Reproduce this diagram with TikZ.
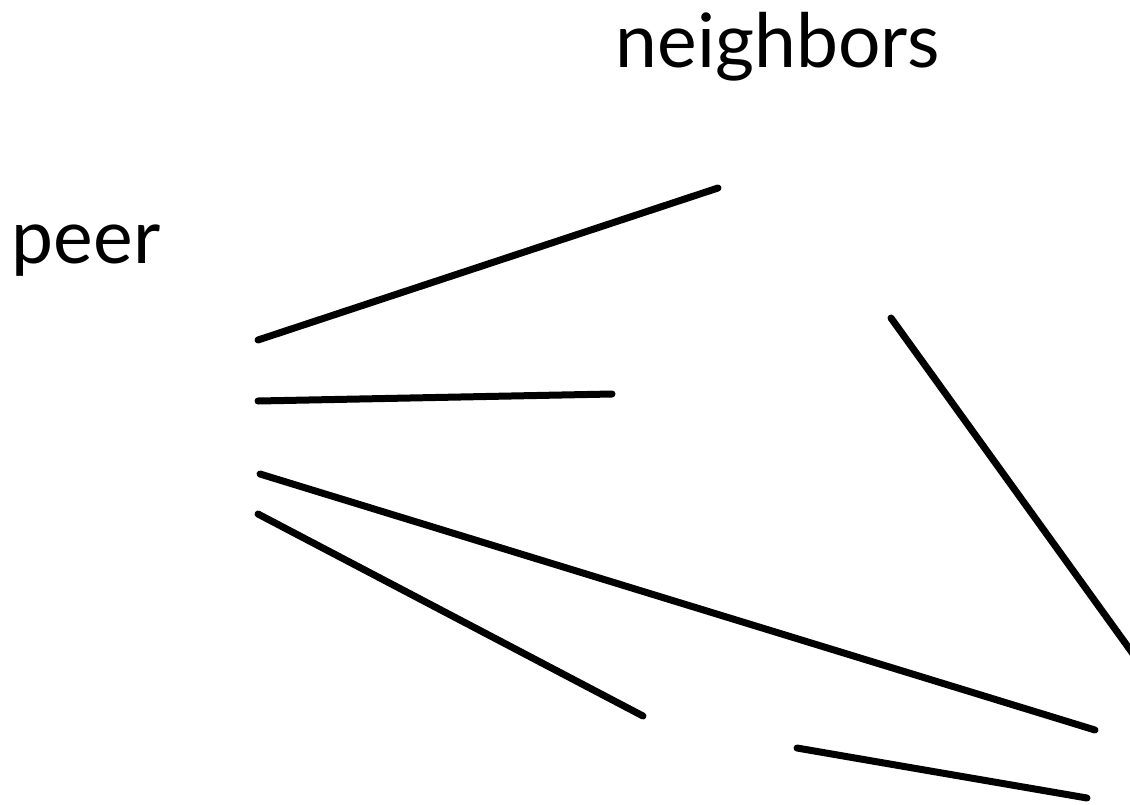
\documentclass[tikz,border=0pt]{standalone}
\usepackage{fontspec}
\setmainfont{Lato}
\begin{document}
\begin{tikzpicture}[x=1pt, y=-1pt, every node/.style={font=\fontsize{75}{82}\selectfont, inner sep=0pt},
  link/.style={line width=7pt, line cap=round}]
                \useasboundingbox (0,0) rectangle (1130,804);
                \node[anchor=base] (neighbors) at (778,67) {neighbors};
                \node[anchor=base] (peer) at (86,263) {peer};

                % ends of the links
                \coordinate (p1) at (258,340);
                \coordinate (p2) at (258,401);
                \coordinate (p3) at (260,474);
                \coordinate (p4) at (258,514);
                \coordinate (n1) at (718,188);
                \coordinate (n2) at (612,394);
                \coordinate (n3) at (1095,730);
                \coordinate (n4) at (643,716);
                \coordinate (m1) at (891,318);
                \coordinate (m2) at (1136,658);
                \coordinate (q1) at (797,748);
                \coordinate (q2) at (1087,798);

                \draw[link] (p1) -- (n1);
                \draw[link] (p2) -- (n2);
                \draw[link] (p3) -- (n3);
                \draw[link] (p4) -- (n4);
                \draw[link] (m1) -- (m2);
                \draw[link] (q1) -- (q2);
            \end{tikzpicture}
\end{document}
